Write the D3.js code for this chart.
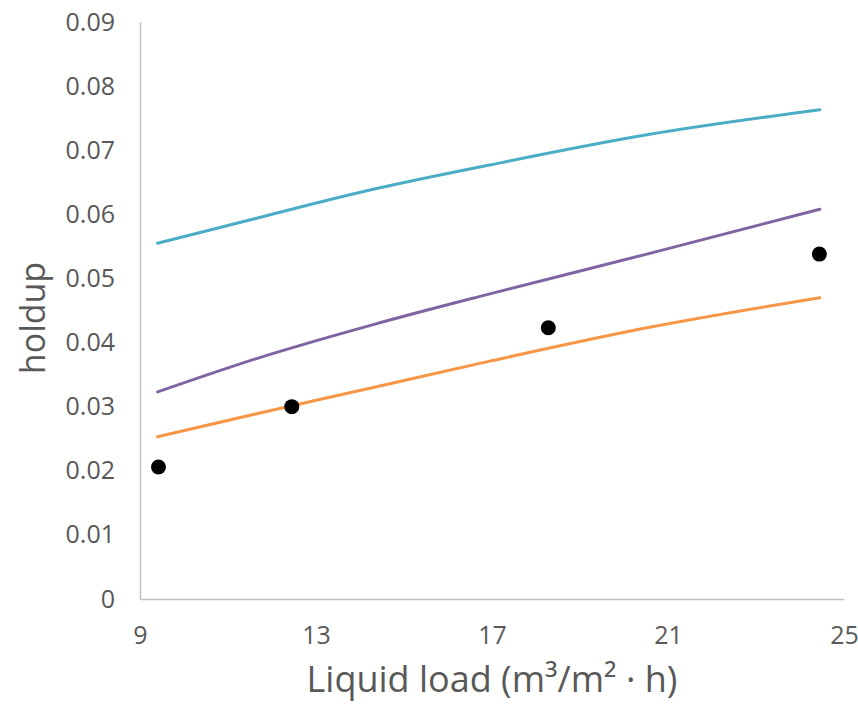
<!DOCTYPE html>
<html>
<head>
  <meta charset="utf-8">
  <style>
    html, body {
      margin: 0;
      padding: 0;
      background: #fff;
      width: 100%;
      height: 100%;
      overflow: hidden;
    }
    svg { display: block; }
    text { font-family: "Open Sans", sans-serif; fill: #595959; }
  </style>
</head>
<body>
  <svg width="858" height="709"></svg>

  <script src="https://d3js.org/d3.v7.min.js"></script>
  <script>
    // measured points
    const measX = [9.42, 12.45, 18.28, 24.44];
    const measY = [0.0206, 0.0300, 0.0423, 0.0538];

    // model curves
    const curveX = [9.40, 11.65, 14.30, 16.95, 20.52, 24.45];
    const cyanY = [0.0555, 0.0594, 0.0639, 0.0677, 0.0724, 0.0763];
    const purpleY = [0.0323, 0.0375, 0.0428, 0.0476, 0.0538, 0.0608];
    const orangeY = [0.0253, 0.0289, 0.0330, 0.0371, 0.0423, 0.0470];

    const xTicks = [9, 13, 17, 21, 25];
    const yTicks = [0, 0.01, 0.02, 0.03, 0.04, 0.05, 0.06, 0.07, 0.08, 0.09];

    const svg = d3.select("svg");
    const x = d3.scaleLinear().domain([9, 25]).range([140, 844]);
    const y = d3.scaleLinear().domain([0, 0.09]).range([599, 22]);

    // axes
    const xAxis = svg.append("g")
      .attr("transform", "translate(0,599)")
      .call(d3.axisBottom(x).tickValues(xTicks).tickSize(0).tickPadding(27).tickFormat(d3.format("d")));
    const yAxis = svg.append("g")
      .attr("transform", "translate(140,0)")
      .call(d3.axisLeft(y).tickValues(yTicks).tickSize(0).tickPadding(25).tickFormat(d => d === 0 ? "0" : d3.format(".2f")(d)));

    [xAxis, yAxis].forEach(a => {
      a.select(".domain").attr("stroke", "#bfbfbf").attr("stroke-width", 1.5);
      a.selectAll("text").attr("font-size", 25).attr("fill", "#595959")
        .attr("font-family", "'Open Sans', sans-serif");
    });

    const line = d3.line().x(d => x(d[0])).y(d => y(d[1])).curve(d3.curveMonotoneX);
    const series = [
      { vals: cyanY, color: "#4bacc6" },
      { vals: purpleY, color: "#8064a2" },
      { vals: orangeY, color: "#f79646" }
    ];
    series.forEach(s => {
      svg.append("path")
        .datum(curveX.map((v, i) => [v, s.vals[i]]))
        .attr("fill", "none")
        .attr("stroke", s.color)
        .attr("stroke-width", 3)
        .attr("stroke-linecap", "round")
        .attr("d", line);
    });

    svg.append("g").selectAll("circle")
      .data(measX.map((v, i) => [v, measY[i]]))
      .join("circle")
      .attr("cx", d => x(d[0]))
      .attr("cy", d => y(d[1]))
      .attr("r", 7.5)
      .attr("fill", "#000");

    svg.append("text")
      .attr("x", 492)
      .attr("y", 692)
      .attr("text-anchor", "middle")
      .attr("font-size", 36)
      .text("Liquid load (m³/m² · h)");

    svg.append("text")
      .attr("transform", "translate(45,318) rotate(-90)")
      .attr("text-anchor", "middle")
      .attr("font-size", 34)
      .text("holdup");
  </script>
</body>
</html>
